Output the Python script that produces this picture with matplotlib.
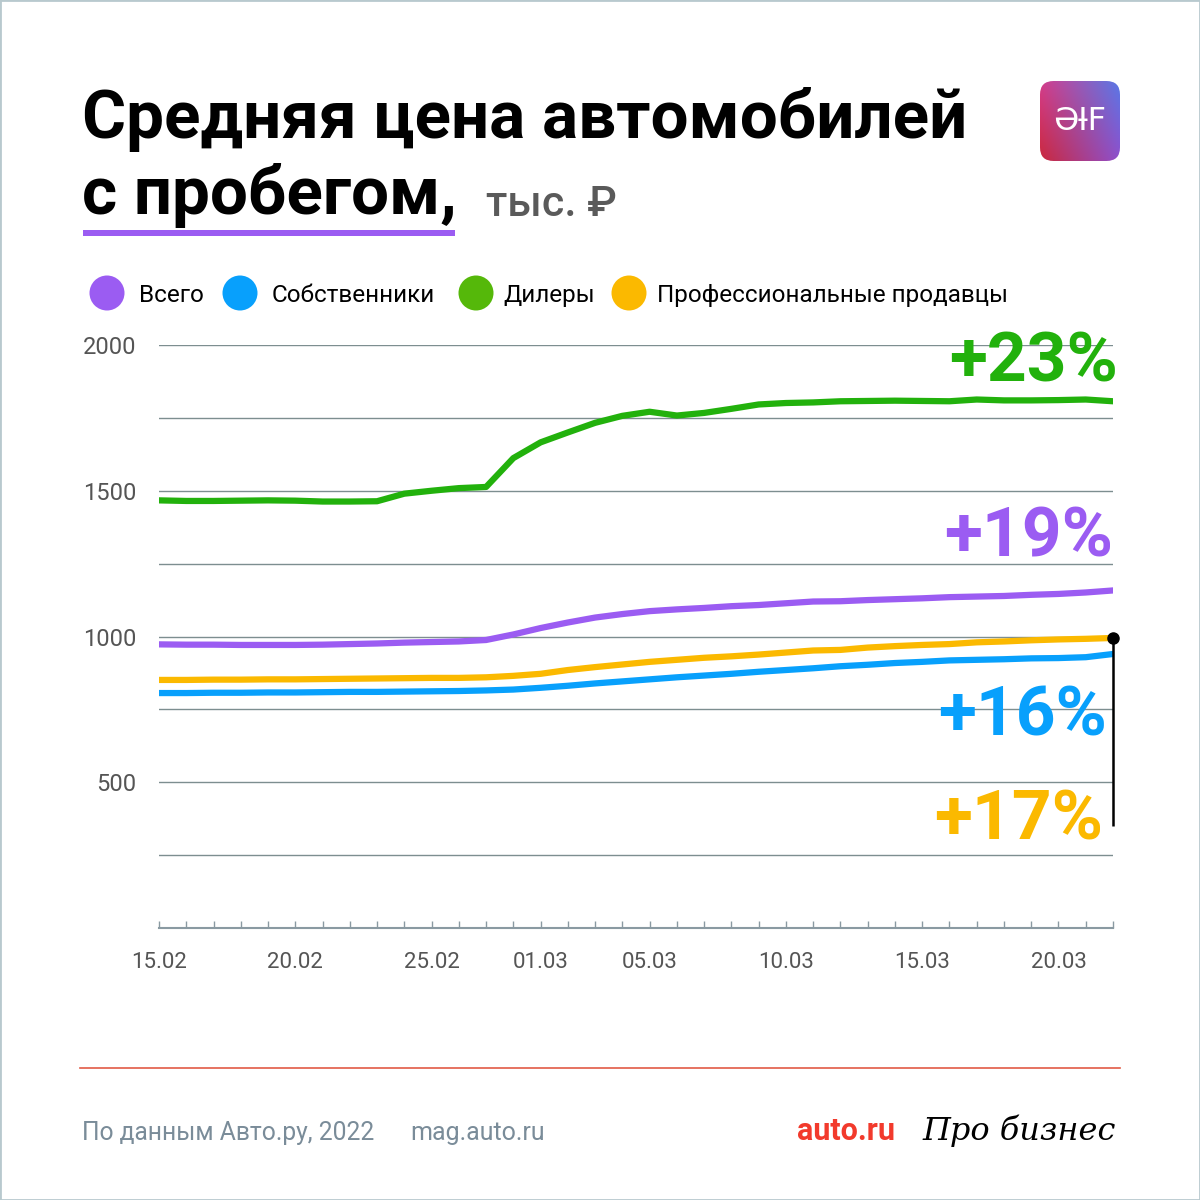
import numpy as np
import matplotlib
matplotlib.use("Agg")
import matplotlib.pyplot as plt
from matplotlib.patches import FancyBboxPatch, Rectangle, Circle

plt.rcParams['font.family'] = ['Roboto', 'DejaVu Sans']

# данные: средняя цена, тыс. руб., по дням 15.02 - 22.03
days = np.arange(36)
total = [973, 972, 972, 971, 971, 971, 972, 974, 976, 979, 981, 983, 988, 1007, 1029, 1048, 1065, 1077,
         1087, 1093, 1098, 1104, 1108, 1114, 1120, 1121, 1125, 1128, 1131, 1135, 1137, 1139, 1143, 1146,
         1151, 1158]
owners = [806, 806, 807, 807, 808, 808, 809, 810, 810, 811, 812, 813, 815, 818, 824, 831, 839, 846,
          853, 860, 866, 872, 879, 885, 891, 898, 903, 909, 913, 918, 920, 922, 925, 926, 929, 940]
dealers = [1467, 1465, 1465, 1466, 1467, 1466, 1463, 1463, 1464, 1490, 1500, 1509, 1513, 1612, 1666,
           1700, 1733, 1757, 1771, 1758, 1767, 1781, 1796, 1801, 1803, 1807, 1808, 1809, 1808, 1807,
           1813, 1810, 1810, 1811, 1813, 1807]
pros = [851, 851, 852, 852, 853, 853, 854, 855, 856, 857, 858, 858, 860, 865, 872, 885, 895, 904,
        913, 920, 927, 932, 938, 945, 952, 954, 962, 967, 971, 974, 980, 983, 987, 990, 992, 995]

tick_days = [0, 5, 10, 14, 18, 23, 28, 33]
tick_labels = ['15.02', '20.02', '25.02', '01.03', '05.03', '10.03', '15.03', '20.03']
names = ['Всего', 'Собственники', 'Дилеры', 'Профессиональные продавцы']
changes = ['+19%', '+16%', '+23%', '+17%']

c_total = '#9b5cf2'
c_owners = '#08a0fc'
c_dealers = '#22b10c'
c_dealers_leg = '#55b80a'
c_pros = '#fbb900'

W = 1200
fig = plt.figure(figsize=(12, 12), dpi=100)
fig.patch.set_facecolor('white')


def fx(px):
    return px / W


def fy(py):
    return 1 - py / W


ax = fig.add_axes([fx(159), fy(928), fx(1113) - fx(159), fy(345) - fy(928)])
ax.set_xlim(0, 35)
ax.set_ylim(0, 2000)

ax.plot(days, dealers, color=c_dealers, lw=4.5, solid_joinstyle='round', zorder=3)
ax.plot(days, total, color=c_total, lw=4.5, solid_joinstyle='round', zorder=3)
ax.plot(days, pros, color=c_pros, lw=4.5, solid_joinstyle='round', zorder=3)
ax.plot(days, owners, color=c_owners, lw=4.5, solid_joinstyle='round', zorder=3)

# линия-выноска и точка
ax.vlines(days[-1], 350, pros[-1], color='black', lw=1.8, zorder=4, clip_on=False)
ax.plot([days[-1]], [pros[-1]], 'o', color='black', ms=8, zorder=5, clip_on=False)

ax.set_yticks(np.arange(0, 2001, 250))
ax.set_yticklabels(['' if v % 500 or v == 0 else str(v) for v in range(0, 2001, 250)])
ax.yaxis.grid(True, color='#7d8e90', lw=1)
ax.set_axisbelow(True)
ax.tick_params(axis='y', length=0, pad=16, labelsize=17, labelcolor='#555555')

ax.set_xticks(tick_days)
ax.set_xticklabels(tick_labels)
ax.set_xticks(days, minor=True)
ax.tick_params(axis='x', which='both', direction='in', length=5, color='#8a9aa2', width=1)
ax.tick_params(axis='x', which='major', pad=17, labelsize=16, labelcolor='#555555')

for s in ['top', 'right', 'left']:
    ax.spines[s].set_visible(False)
ax.spines['bottom'].set_color('#8a9aa2')
ax.spines['bottom'].set_linewidth(1.5)

# заголовок
fig.text(fx(82), fy(138), 'Средняя цена автомобилей', fontsize=48.5, fontweight='bold',
         color='black', va='baseline')
fig.text(fx(82), fy(214), 'с пробегом,', fontsize=48.5, fontweight='bold', color='black',
         va='baseline')
fig.text(fx(486), fy(216), 'тыс. ₽', fontsize=31, fontweight='medium', color='#5a5a5a',
         va='baseline')
fig.add_artist(Rectangle((fx(83), fy(236)), fx(455) - fx(83), 6 / W, transform=fig.transFigure,
                         color=c_total, lw=0))

# логотип
lax = fig.add_axes([fx(1040), fy(161), 80 / W, 80 / W])
lax.set_axis_off()
n = 100
u = np.linspace(0, 1, n)[None, :, None]
v = np.linspace(0, 1, n)[:, None, None]
tl = np.array([0.83, 0.24, 0.55])
tr = np.array([0.35, 0.47, 0.90])
bl = np.array([0.79, 0.16, 0.24])
br = np.array([0.56, 0.31, 0.80])
grad = (1 - v) * ((1 - u) * tl + u * tr) + v * ((1 - u) * bl + u * br)
im = lax.imshow(grad, extent=[0, 1, 0, 1], origin='upper', aspect='auto')
clip = FancyBboxPatch((0, 0), 1, 1, boxstyle='round,pad=0,rounding_size=0.17',
                      transform=lax.transAxes, fc='none', ec='none')
lax.add_patch(clip)
im.set_clip_path(clip)
lax.set_xlim(0, 1)
lax.set_ylim(0, 1)
lax.text(0.5, 0.5, 'ƏƗF', color='white', fontsize=23, ha='center', va='center',
         family=['DejaVu Sans'])

# легенда
leg_x = [107, 240, 476, 629]
leg_tx = [139, 272, 503, 657]
leg_c = [c_total, c_owners, c_dealers_leg, c_pros]
for x0, tx, col, name in zip(leg_x, leg_tx, leg_c, names):
    fig.add_artist(Circle((fx(x0), fy(293)), 17.5 / W, transform=fig.transFigure, color=col, lw=0))
    fig.text(fx(tx), fy(293), name, fontsize=17.5, color='black', va='center_baseline')

# проценты
pct_pos = [(1113, 557, c_total), (1107, 736, c_owners), (1118, 382, c_dealers), (1103, 840, c_pros)]
for lab, (px, py, col) in zip(changes, pct_pos):
    fig.text(fx(px), fy(py), lab, fontsize=50, fontweight='bold', color=col, ha='right',
             va='baseline')

# подвал
fig.add_artist(plt.Line2D([fx(80), fx(1120)], [fy(1068), fy(1068)], transform=fig.transFigure,
                          color='#e25a45', lw=1.2))
fig.text(fx(82), fy(1140), 'По данным Авто.ру, 2022', fontsize=17.7, color='#7a8c99', va='baseline')
fig.text(fx(410), fy(1140), 'mag.auto.ru', fontsize=18, color='#7a8c99', va='baseline')
fig.text(fx(797), fy(1140), 'auto.ru', fontsize=22, fontweight='bold', color='#f23a2c',
         va='baseline')
fig.text(fx(922), fy(1140), 'Про бизнес', fontsize=23, style='italic', color='black',
         va='baseline', family=['DejaVu Serif'])

fig.add_artist(Rectangle((0, 0), 1, 1, transform=fig.transFigure, fill=False, ec='#b8c9ce', lw=2))

fig.savefig('out.png', dpi=100, facecolor='white')
